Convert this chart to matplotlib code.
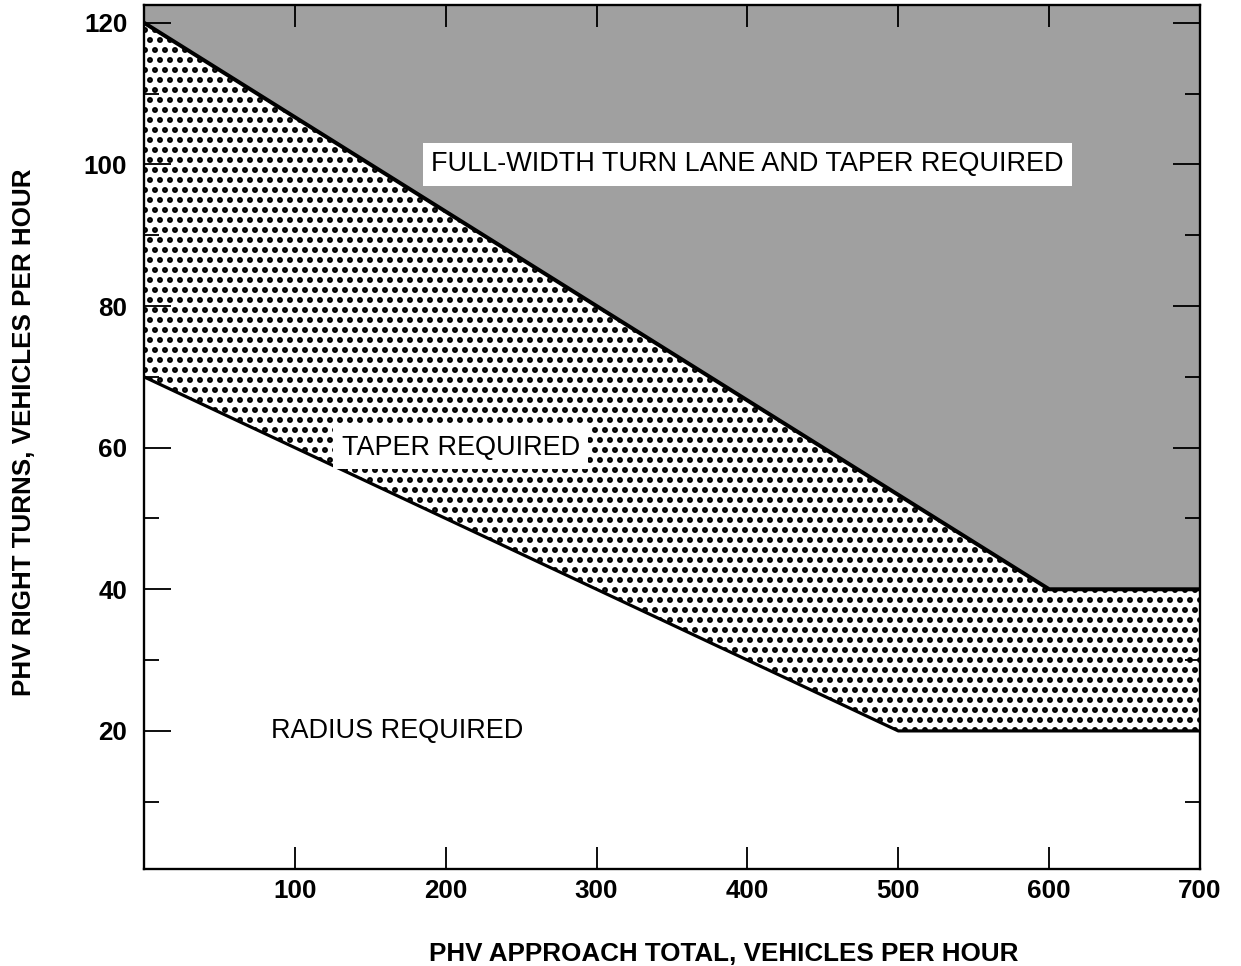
import numpy as np
import matplotlib
matplotlib.use('Agg')
import matplotlib.pyplot as plt
from matplotlib.ticker import MultipleLocator

plt.rcParams['font.family'] = ['Liberation Sans', 'DejaVu Sans']
plt.rcParams['hatch.linewidth'] = 2.3

# boundary between "taper" and "full-width lane" zones
upper_x = [0, 600, 700]
upper_y = [120, 40, 40]
# boundary between "radius" and "taper" zones
lower_x = [0, 500, 700]
lower_y = [70, 20, 20]

x_ticks = [100, 200, 300, 400, 500, 600, 700]
y_ticks = [20, 40, 60, 80, 100, 120]

zone_labels = ['FULL-WIDTH TURN LANE AND TAPER REQUIRED', 'TAPER REQUIRED', 'RADIUS REQUIRED']
zone_pos = [(400, 100), (210, 60), (168, 20)]

DPI = 120
fig = plt.figure(figsize=(1241 / DPI, 966 / DPI), dpi=DPI)
ax = fig.add_axes([0.1160, 0.1004, 0.8510, 0.8944])

ax.set_xlim(0, 700)
ax.set_ylim(0.5, 122.5)
top = ax.get_ylim()[1]

# full-width lane zone (grey screen)
ax.fill(upper_x + [upper_x[-1], upper_x[0]], upper_y + [top, top],
        facecolor='#a0a0a0', edgecolor='none', zorder=1)

# taper zone (dot screen)
ax.fill(lower_x + upper_x[::-1], lower_y + upper_y[::-1],
        facecolor='white', edgecolor='black', hatch='..', lw=0, zorder=1)

ax.plot(upper_x, upper_y, color='black', lw=2.4, zorder=3)
ax.plot(lower_x, lower_y, color='black', lw=1.9, zorder=3)

for lbl, (px, py) in zip(zone_labels, zone_pos):
    box = None
    if lbl != 'RADIUS REQUIRED':
        box = dict(facecolor='white', edgecolor='none', pad=5)
    ax.text(px, py, lbl, ha='center', va='center', fontsize=16.2,
            bbox=box, zorder=4)

ax.set_xticks(x_ticks)
ax.set_yticks(y_ticks)
ax.yaxis.set_minor_locator(MultipleLocator(10))
ax.tick_params(axis='both', which='both', direction='in', width=1.1,
               top=True, right=True, labelsize=15.6)
ax.tick_params(axis='x', which='major', length=13, pad=6)
ax.tick_params(axis='y', which='major', length=16, pad=10)
ax.tick_params(axis='y', which='minor', length=9)
for t in ax.get_xticklabels() + ax.get_yticklabels():
    t.set_fontweight('bold')

for s in ax.spines.values():
    s.set_linewidth(1.4)
    s.set_zorder(5)

fig.text(0.583, 0.0125, 'PHV APPROACH TOTAL, VEHICLES PER HOUR',
         ha='center', va='center', fontsize=15.6, fontweight='bold')
fig.text(0.019, 0.553, 'PHV RIGHT TURNS, VEHICLES PER HOUR',
         ha='center', va='center', rotation=90, fontsize=15.6, fontweight='bold')

fig.savefig('out.png', dpi=DPI)
